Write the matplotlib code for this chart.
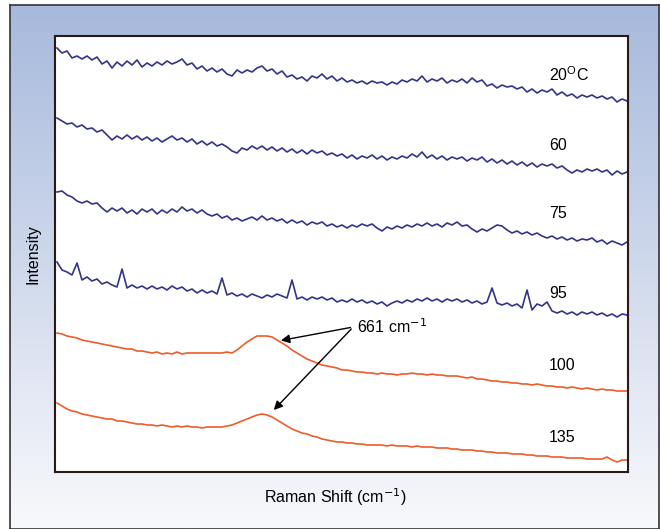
import matplotlib.pyplot as plt
import numpy as np

plt.rcParams['font.family'] = ['Liberation Sans', 'DejaVu Sans']

# Raman shift grid (cm-1), 115 samples
shift = np.linspace(305, 1300, 115)

# intensities (arbitrary units, spectra offset)
t20 = [432, 427, 429, 422, 424, 421, 424, 420, 423, 416, 419, 412, 418, 414, 419, 415, 420, 413, 417, 414,
       418, 415, 419, 416, 418, 421, 415, 417, 411, 414, 409, 412, 408, 411, 406, 404, 410, 407, 410, 408,
       412, 414, 409, 411, 406, 409, 403, 405, 401, 403, 399, 404, 402, 406, 401, 404, 399, 402, 398, 400,
       397, 399, 396, 399, 397, 398, 395, 398, 396, 400, 398, 401, 399, 404, 398, 401, 399, 402, 397, 400,
       398, 401, 397, 402, 398, 400, 394, 396, 392, 395, 393, 394, 391, 393, 388, 391, 387, 390, 388, 391,
       385, 388, 384, 386, 382, 385, 383, 385, 382, 384, 381, 383, 378, 381, 379]
t60 = [362, 359, 356, 357, 353, 355, 351, 352, 348, 350, 345, 340, 344, 341, 345, 341, 344, 340, 343, 339,
       342, 338, 341, 344, 340, 342, 338, 341, 336, 339, 335, 338, 334, 336, 333, 329, 327, 332, 330, 334,
       331, 334, 330, 333, 329, 332, 328, 331, 327, 330, 326, 330, 327, 329, 325, 327, 324, 326, 322, 325,
       321, 324, 322, 325, 321, 324, 320, 323, 321, 324, 322, 326, 323, 328, 322, 325, 321, 324, 320, 323,
       321, 323, 319, 322, 320, 323, 318, 321, 317, 320, 316, 319, 315, 318, 314, 317, 313, 316, 314, 316,
       312, 314, 310, 307, 310, 308, 311, 309, 311, 308, 310, 305, 309, 306, 308]
t75 = [288, 289, 285, 283, 279, 277, 279, 276, 277, 272, 268, 272, 269, 272, 267, 270, 266, 271, 268, 271,
       266, 270, 267, 271, 268, 273, 269, 271, 267, 270, 266, 264, 266, 262, 264, 260, 262, 259, 261, 263,
       260, 264, 260, 262, 259, 261, 257, 260, 257, 259, 255, 258, 256, 258, 254, 256, 253, 255, 252, 255,
       253, 256, 254, 256, 252, 249, 253, 251, 254, 252, 255, 253, 256, 254, 257, 254, 256, 253, 257, 255,
       258, 254, 255, 251, 248, 251, 249, 252, 255, 254, 250, 247, 249, 246, 248, 245, 247, 244, 242, 244,
       241, 243, 240, 242, 239, 241, 240, 242, 238, 240, 236, 239, 237, 235, 238]
t95 = [218, 210, 208, 205, 217, 200, 203, 199, 201, 196, 198, 195, 193, 211, 192, 195, 192, 194, 191, 194,
       191, 193, 190, 194, 191, 193, 189, 191, 187, 190, 187, 189, 186, 202, 185, 187, 184, 186, 183, 186,
       184, 182, 185, 183, 186, 184, 182, 200, 181, 183, 180, 183, 181, 183, 180, 182, 178, 180, 178, 181,
       178, 180, 177, 179, 176, 178, 174, 177, 179, 177, 180, 178, 181, 179, 182, 179, 181, 178, 181, 179,
       181, 178, 180, 177, 179, 176, 178, 192, 177, 175, 177, 174, 176, 172, 190, 170, 176, 174, 178, 169,
       167, 169, 166, 168, 165, 168, 166, 168, 165, 167, 164, 166, 163, 166, 165]
t100 = [147, 146, 144, 143, 142, 140, 139, 138, 137, 136, 135, 134, 133, 132, 131, 131, 129, 129, 128, 127,
        128, 126, 127, 126, 128, 126, 127, 127, 127, 127, 127, 127, 127, 127, 128, 127, 130, 134, 138, 141,
        144, 144, 144, 143, 140, 137, 134, 130, 127, 124, 121, 119, 117, 115, 114, 113, 112, 110, 110, 109,
        108, 108, 107, 107, 106, 107, 106, 106, 105, 106, 106, 107, 106, 106, 105, 106, 105, 105, 104, 104,
        104, 103, 102, 103, 101, 101, 100, 99, 99, 98, 98, 97, 97, 96, 96, 95, 96, 95, 94, 94,
        93, 93, 92, 93, 92, 91, 92, 91, 90, 91, 90, 90, 89, 89, 89]
t135 = [77, 74, 71, 69, 68, 66, 65, 64, 63, 62, 61, 61, 59, 59, 58, 57, 56, 56, 55, 55,
        54, 55, 54, 53, 54, 53, 54, 53, 53, 52, 53, 53, 53, 53, 54, 55, 57, 59, 61, 63,
        65, 66, 65, 63, 60, 57, 54, 51, 49, 47, 46, 44, 43, 41, 40, 39, 38, 38, 37, 37,
        36, 36, 35, 35, 35, 35, 34, 35, 34, 34, 34, 33, 34, 33, 33, 33, 32, 32, 32, 31,
        31, 30, 30, 30, 29, 29, 28, 28, 27, 27, 27, 26, 26, 26, 25, 25, 24, 24, 24, 23,
        23, 23, 22, 22, 22, 22, 21, 21, 21, 21, 23, 20, 18, 20, 20]

spectra = [t20, t60, t75, t95, t100, t135]
labels = ['20$^{\\mathregular{O}}$C', '60', '75', '95', '100', '135']
label_y = [405, 334, 267, 186, 114, 43]
colors = ['#333388'] * 4 + ['#EF5B2B'] * 2

fig = plt.figure(figsize=(6.6, 5.29), dpi=100)
fig.patch.set_facecolor('white')

# gradient panel behind the chart
bg = fig.add_axes([10 / 660, 0, 649 / 660, 524 / 529], zorder=0)
top = np.array([167, 185, 220]) / 255
bot = np.array([248, 249, 252]) / 255
f = np.linspace(0, 1, 256)[:, None]
grad = top * (1 - f) + bot * f
bg.imshow(grad[:, None, :], aspect='auto', extent=[0, 1, 0, 1])
bg.set_xticks([])
bg.set_yticks([])
for s in bg.spines.values():
    s.set_color('#333333')
    s.set_linewidth(1.2)

ax = fig.add_axes([55 / 660, 1 - 472 / 529, 573 / 660, 436 / 529], zorder=1)
ax.set_facecolor('white')
for y, c in zip(spectra, colors):
    ax.plot(shift, y, color=c, lw=1.2)

for lab, ly in zip(labels, label_y):
    ax.text(1164, ly, lab, fontsize=11.5, ha='left', va='center')

ax.text(829, 153, '661 cm$^{-1}$', fontsize=11.5, ha='left', va='center')
for tip in [(691, 139), (680, 68)]:
    ax.annotate('', xy=tip, xytext=(822, 153),
                arrowprops=dict(arrowstyle='-|>', color='black', lw=1, mutation_scale=13))

ax.set_xlim(301.5, 1301.7)
ax.set_ylim(8, 444)
ax.set_xticks([])
ax.set_yticks([])
for s in ax.spines.values():
    s.set_color('#2a1a16')
    s.set_linewidth(1.5)

fig.text(335 / 660, 1 - 497 / 529, 'Raman Shift (cm$^{-1}$)', fontsize=11.5, ha='center', va='center')
fig.text(33 / 660, 1 - 254 / 529, 'Intensity', fontsize=11.5, ha='center', va='center', rotation=90)

fig.savefig('out.png', dpi=100)
